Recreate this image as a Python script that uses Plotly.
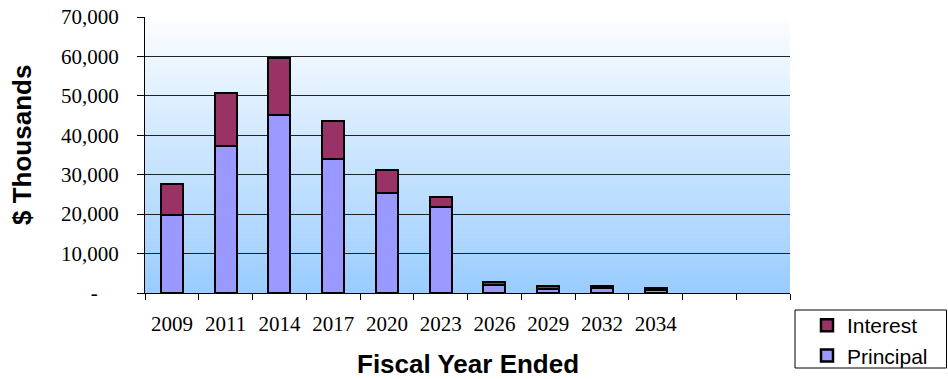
import plotly.graph_objects as go

years = ["2009", "2011", "2014", "2017", "2020", "2023", "2026", "2029", "2032", "2034"]
principal = [19700, 37200, 45100, 33900, 25400, 21700, 2000, 1100, 1200, 800]
interest = [7900, 13600, 14600, 9800, 5750, 2600, 700, 700, 700, 500]
y_ticks = [0, 10000, 20000, 30000, 40000, 50000, 60000, 70000]
y_tick_text = ["-\u00a0\u00a0\u00a0\u00a0", "10,000", "20,000", "30,000", "40,000", "50,000", "60,000", "70,000"]
n_slots = 12

x_pos = list(range(len(years)))

W, H = 948, 379
PL, PR, PT, PB = 145, 790, 17, 293  # plot area in page pixels
L, T = PL, PT
R, B = W - PR, H - PB
pw, ph = PR - PL, PB - PT

def px_x(x):
    return (x - PL) / pw

def px_y(y):
    return (PB - y) / ph

fig = go.Figure()
fig.add_trace(go.Bar(x=x_pos, y=principal, name="Principal",
                     marker=dict(color="#9999FF", line=dict(color="black", width=2.5)),
                     width=0.41))
fig.add_trace(go.Bar(x=x_pos, y=interest, name="Interest",
                     marker=dict(color="#993366", line=dict(color="black", width=2.5)),
                     width=0.41))

# gradient background
shapes = []
N = 70
top = (253, 254, 255)
bot = (153, 204, 255)
for i in range(N):
    t = (i + 0.5) / N
    c = tuple(round(top[k] + (bot[k] - top[k]) * t) for k in range(3))
    shapes.append(dict(type="rect", xref="paper", yref="paper",
                       x0=0, x1=1, y0=1 - (i + 1) / N, y1=min(1, 1 - i / N + 0.002),
                       fillcolor="rgb(%d,%d,%d)" % c, line=dict(width=0), layer="below"))

# legend frame
shapes.append(dict(type="rect", xref="paper", yref="paper",
                   x0=px_x(795), x1=px_x(946.5), y0=px_y(368), y1=px_y(310),
                   line=dict(color="black", width=1), fillcolor="rgba(0,0,0,0)", layer="above"))

annotations = [
    dict(text="<b>Fiscal Year Ended</b>", xref="paper", yref="paper", x=0.5, y=px_y(364),
         xanchor="center", yanchor="middle", showarrow=False,
         font=dict(family="Liberation Sans, Arial", size=26, color="black")),
    dict(text="<b>$ Thousands</b>", xref="paper", yref="paper", x=px_x(22), y=px_y(145),
         xanchor="center", yanchor="middle", showarrow=False, textangle=-90,
         font=dict(family="Liberation Sans, Arial", size=26, color="black")),
]

fig.update_layout(
    barmode="stack",
    width=W, height=H,
    margin=dict(l=L, r=R, t=T, b=B, autoexpand=False),
    paper_bgcolor="white",
    plot_bgcolor="white",
    shapes=shapes,
    annotations=annotations,
    showlegend=True,
    legend=dict(traceorder="reversed", x=px_x(807), y=px_y(305), xanchor="left", yanchor="top",
                borderwidth=0, bgcolor="rgba(0,0,0,0)",
                font=dict(family="Liberation Sans, Arial", size=21, color="black"),
                itemwidth=30, tracegroupgap=0),
    bargap=0,
)
fig.update_xaxes(range=[-0.5, n_slots - 0.5], tickvals=x_pos, ticktext=years,
                 ticks="", showgrid=False, showline=True, linecolor="black", linewidth=1,
                 ticklabelstandoff=12,
                 tickfont=dict(family="Liberation Serif, Times New Roman", size=21, color="black"),
                 minor=dict(ticks="outside", tick0=-0.5, dtick=1, ticklen=6, tickcolor="black", showgrid=False),
                 zeroline=False, fixedrange=True)
fig.update_yaxes(range=[0, 70000], tickvals=y_ticks, ticktext=y_tick_text,
                 ticks="outside", ticklen=7, tickcolor="black",
                 ticklabelstandoff=14, ticklabeloverflow="allow",
                 showgrid=True, gridcolor="#222222", gridwidth=1,
                 showline=True, linecolor="black", linewidth=1, zeroline=False,
                 tickfont=dict(family="Liberation Serif, Times New Roman", size=21, color="black"))

fig.write_html("out.html", config={"displayModeBar": False},
               post_script="document.body.style.margin='0';document.body.style.overflow='hidden';")
